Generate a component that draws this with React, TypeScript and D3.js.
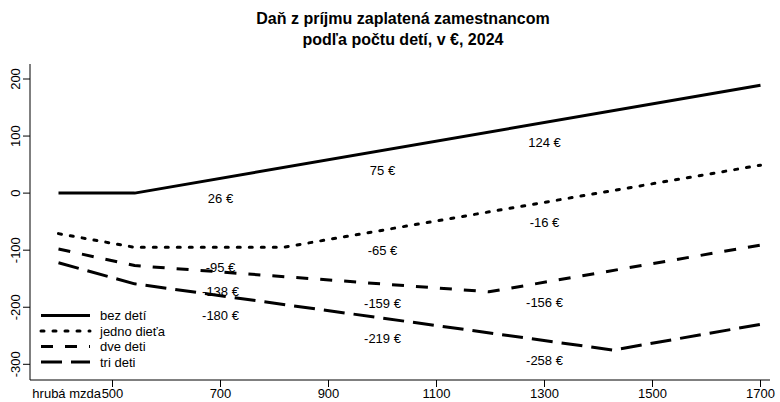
import React from 'react';
import * as d3 from 'd3';

// breakpoints of each series (gross wage, tax in €)
const bezX = [400, 541, 1700];
const bezY = [0, 0, 189];
const jednoX = [400, 541, 816, 1700];
const jednoY = [-71, -95, -95, 49];
const dveX = [400, 541, 1197, 1700];
const dveY = [-98, -127, -173, -91];
const triX = [400, 541, 1427, 1700];
const triY = [-122, -159, -275, -230];

// annotated values
const labelX = [700, 1000, 1300];
const bezLab = [26, 75, 124];
const jednoLab = [-95, -65, -16];
const dveLab = [-138, -159, -156];
const triLab = [-180, -219, -258];

const xTicks = [500, 700, 900, 1100, 1300, 1500, 1700];
const yTicks = [200, 100, 0, -100, -200, -300];
const seriesNames = ['bez detí', 'jedno dieťa', 'dve deti', 'tri deti'];

const W = 780, H = 402;
const font = '"Liberation Sans", Arial, Helvetica, sans-serif';

export default function App() {
  const x = d3.scaleLinear().domain([500, 1700]).range([112.5, 760.5]);
  const y = d3.scaleLinear().domain([200, -300]).range([79, 364.3]);

  const series = [
    { xs: bezX, ys: bezY, labs: bezLab, dash: 'none', cap: 'butt' },
    { xs: jednoX, ys: jednoY, labs: jednoLab, dash: '3 9', cap: 'round' },
    { xs: dveX, ys: dveY, labs: dveLab, dash: '12 12', cap: 'butt' },
    { xs: triX, ys: triY, labs: triLab, dash: '21 9', cap: 'butt' },
  ];

  const line = d3.line<[number, number]>()
    .x(d => x(d[0]))
    .y(d => y(d[1]));

  const left = 30, bottom = 380, top = 64, right = 770;

  return (
    <div style={{ position: 'fixed', left: 0, top: 0 }}>
      <svg width={W} height={H} style={{ display: 'block', background: '#fff' }} fontFamily={font}>
        {/* title */}
        <text x={403} y={24} textAnchor="middle" fontSize={16} fontWeight="bold">Daň z príjmu zaplatená zamestnancom</text>
        <text x={403} y={45} textAnchor="middle" fontSize={16} fontWeight="bold">podľa počtu detí, v €, 2024</text>

        {/* axes (L-shaped box) */}
        <path d={`M${left},${top}V${bottom}H${right}`} fill="none" stroke="#000" strokeWidth={1} />
        {yTicks.map(t => (
          <g key={t}>
            <line x1={left - 7} x2={left} y1={y(t)} y2={y(t)} stroke="#000" />
            <text transform={`translate(20,${y(t)}) rotate(-90)`} textAnchor="middle" fontSize={13}>{t}</text>
          </g>
        ))}
        {xTicks.map(t => (
          <g key={t}>
            <line x1={x(t)} x2={x(t)} y1={bottom} y2={bottom + 7} stroke="#000" />
            <text x={x(t)} y={398} textAnchor="middle" fontSize={13}>{t}</text>
          </g>
        ))}
        <text x={101} y={398} textAnchor="end" fontSize={13}>hrubá mzda</text>

        {/* lines */}
        {series.map((s, i) => (
          <path key={i}
            d={line(s.xs.map((v, j) => [v, s.ys[j]] as [number, number])) || ''}
            fill="none" stroke="#000" strokeWidth={3}
            strokeDasharray={s.dash} strokeLinecap={s.cap as any} strokeLinejoin="round" />
        ))}

        {/* value labels */}
        {series.map((s, i) => s.labs.map((v, j) => (
          <text key={`${i}-${j}`} x={x(labelX[j])} y={y(v - 35)} dy="0.35em" textAnchor="middle" fontSize={13}>{`${v} €`}</text>
        )))}

        {/* legend */}
        {series.map((s, i) => {
          const ly = 315.5 + i * 15.5;
          return (
            <g key={i}>
              <line x1={41} x2={90} y1={ly} y2={ly} stroke="#000" strokeWidth={3}
                strokeDasharray={s.dash} strokeLinecap={s.cap as any} />
              <text x={100} y={ly} dy="0.35em" fontSize={13}>{seriesNames[i]}</text>
            </g>
          );
        })}
      </svg>
    </div>
  );
}
